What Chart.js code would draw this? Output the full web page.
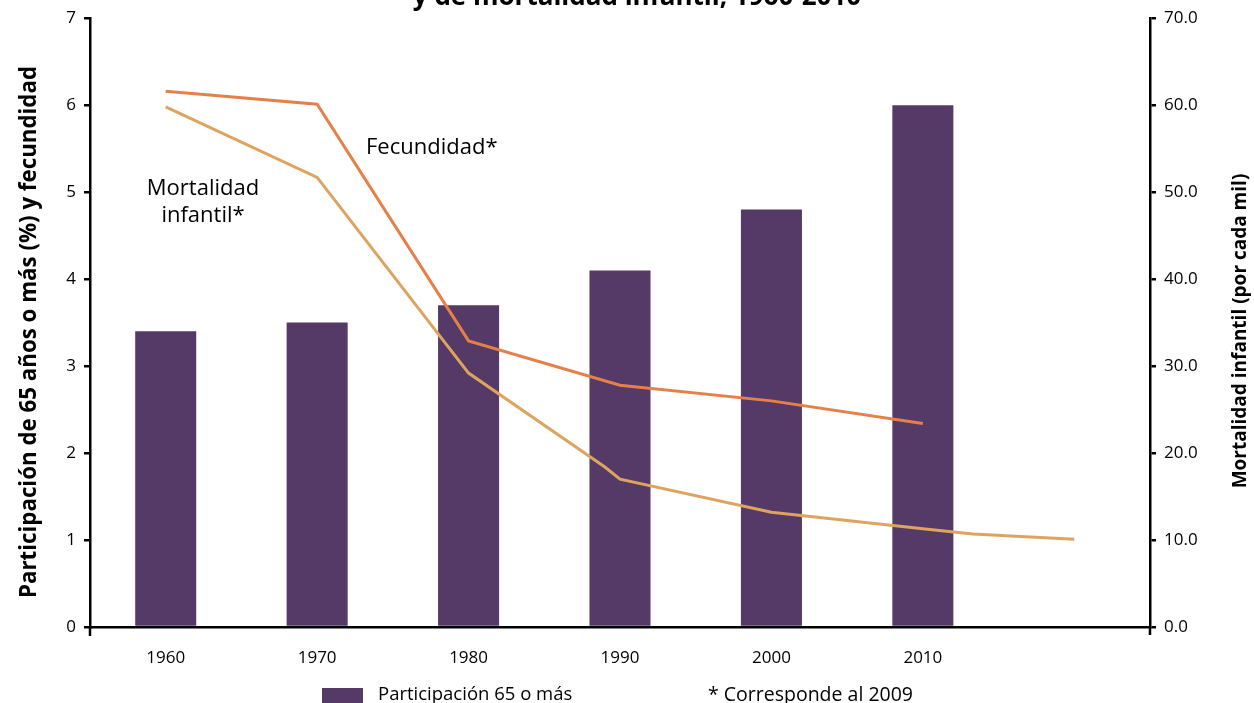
<!DOCTYPE html>
<html>
<head>
<meta charset="utf-8">
<script src="https://cdn.jsdelivr.net/npm/chart.js@4.4.1/dist/chart.umd.min.js"></script>
<style>
  html, body { margin: 0; padding: 0; background: #fff; }
  #wrap { width: 1254px; height: 703px; position: relative; }
</style>
</head>
<body>
<div id="wrap"><canvas id="chart"></canvas></div>
<script>
// decades on the category axis; the last slot is left blank so the lines can run past 2010
const years = ['1960', '1970', '1980', '1990', '2000', '2010', ''];
const share65 = [3.4, 3.5, 3.7, 4.1, 4.8, 6.0];
const fertility = [6.16, 6.01, 3.29, 2.78, 2.60, 2.34];
const fertilityPos = [0, 1, 2, 3, 4, 5];
const infantMortality = [59.8, 51.7, 29.2, 18.4, 17.0, 13.2, 11.3, 10.7, 10.1];
const mortalityPos = [0, 1, 2, 2.9, 3, 4, 5, 5.33, 6];

const FONT = '"Open Sans", "Noto Sans", sans-serif';
const PURPLE = '#553966';
const ORANGE = '#e5804b';
const SAND = '#dea45f';

const toPoints = (xs, ys) => xs.map((x, i) => ({ x: x, y: ys[i] }));

// everything drawn by hand: cut title, line labels, rotated axis titles, footer legend
const extras = {
  id: 'extras',
  afterDraw(chart) {
    const ctx = chart.ctx;
    const area = chart.chartArea;
    ctx.save();
    ctx.fillStyle = '#000';

    ctx.font = 'bold 26px ' + FONT;
    ctx.textAlign = 'center';
    ctx.textBaseline = 'alphabetic';
    ctx.fillText('y de mortalidad infantil, 1960-2010', 637, 5);

    // axes run a little past the baseline
    ctx.strokeStyle = '#000';
    ctx.lineWidth = 2.5;
    ctx.beginPath();
    ctx.moveTo(area.left, area.bottom);
    ctx.lineTo(area.left, area.bottom + 9);
    ctx.moveTo(area.right, area.bottom);
    ctx.lineTo(area.right, area.bottom + 8);
    ctx.stroke();

    ctx.font = '22px ' + FONT;
    ctx.textAlign = 'left';
    ctx.textBaseline = 'middle';
    ctx.fillText('Fecundidad*', 366, 148);
    ctx.textAlign = 'center';
    ctx.fillText('Mortalidad', 203, 189);
    ctx.fillText('infantil*', 203, 216);

    ctx.save();
    ctx.font = 'bold 22.3px ' + FONT;
    ctx.translate(30, 332);
    ctx.rotate(-Math.PI / 2);
    ctx.fillText('Participación de 65 años o más (%) y fecundidad', 0, 0);
    ctx.restore();
    ctx.save();
    ctx.font = 'bold 19px ' + FONT;
    ctx.translate(1241, 331);
    ctx.rotate(-Math.PI / 2);
    ctx.fillText('Mortalidad infantil (por cada mil)', 0, 0);
    ctx.restore();

    ctx.fillStyle = PURPLE;
    ctx.fillRect(322, 688, 41, 18);
    ctx.fillStyle = '#000';
    ctx.font = '18.5px ' + FONT;
    ctx.textAlign = 'left';
    ctx.fillText('Participación 65 o más', 378, 695);
    ctx.font = '19.5px ' + FONT;
    ctx.fillText('* Corresponde al 2009', 708, 695);
    ctx.restore();
  }
};

const axisLine = { display: true, color: '#000', width: 2.5 };
const tickFont = { family: FONT, size: 17 };

new Chart(document.getElementById('chart'), {
  data: {
    labels: years,
    datasets: [
      {
        type: 'line',
        label: 'Fecundidad*',
        data: toPoints(fertilityPos, fertility),
        xAxisID: 'xl',
        yAxisID: 'y',
        borderColor: ORANGE,
        borderWidth: 3,
        pointRadius: 0,
        tension: 0,
        order: 1
      },
      {
        type: 'line',
        label: 'Mortalidad infantil*',
        data: toPoints(mortalityPos, infantMortality),
        xAxisID: 'xl',
        yAxisID: 'y2',
        borderColor: SAND,
        borderWidth: 3,
        pointRadius: 0,
        tension: 0,
        order: 1
      },
      {
        type: 'bar',
        label: 'Participación 65 o más',
        data: share65,
        xAxisID: 'x',
        yAxisID: 'y',
        backgroundColor: PURPLE,
        grouped: false,
        categoryPercentage: 1,
        barPercentage: 0.403,
        order: 2
      }
    ]
  },
  options: {
    responsive: true,
    maintainAspectRatio: false,
    animation: false,
    layout: { padding: { top: 18, left: 0, right: 0, bottom: 0 } },
    plugins: {
      legend: { display: false },
      title: { display: false },
      tooltip: { enabled: false }
    },
    scales: {
      x: {
        type: 'category',
        offset: true,
        grid: { display: false },
        border: axisLine,
        ticks: { color: '#000', font: tickFont, padding: 13, maxRotation: 0 },
        afterFit(scale) { scale.height = 76; }
      },
      xl: { type: 'linear', display: false, min: -0.5, max: 6.5 },
      y: {
        position: 'left',
        min: 0,
        max: 7,
        border: axisLine,
        grid: { drawOnChartArea: false, color: '#000', lineWidth: 2.5, tickLength: 6 },
        ticks: { stepSize: 1, color: '#000', font: tickFont, padding: 8 },
        afterFit(scale) { scale.width = 90; }
      },
      y2: {
        position: 'right',
        min: 0,
        max: 70,
        border: axisLine,
        grid: { drawOnChartArea: false, color: '#000', lineWidth: 2.5, tickLength: 6 },
        ticks: { stepSize: 10, color: '#000', font: tickFont, padding: 8, callback: v => v.toFixed(1) },
        afterFit(scale) { scale.width = 104; }
      }
    }
  },
  plugins: [extras]
});
</script>
</body>
</html>
